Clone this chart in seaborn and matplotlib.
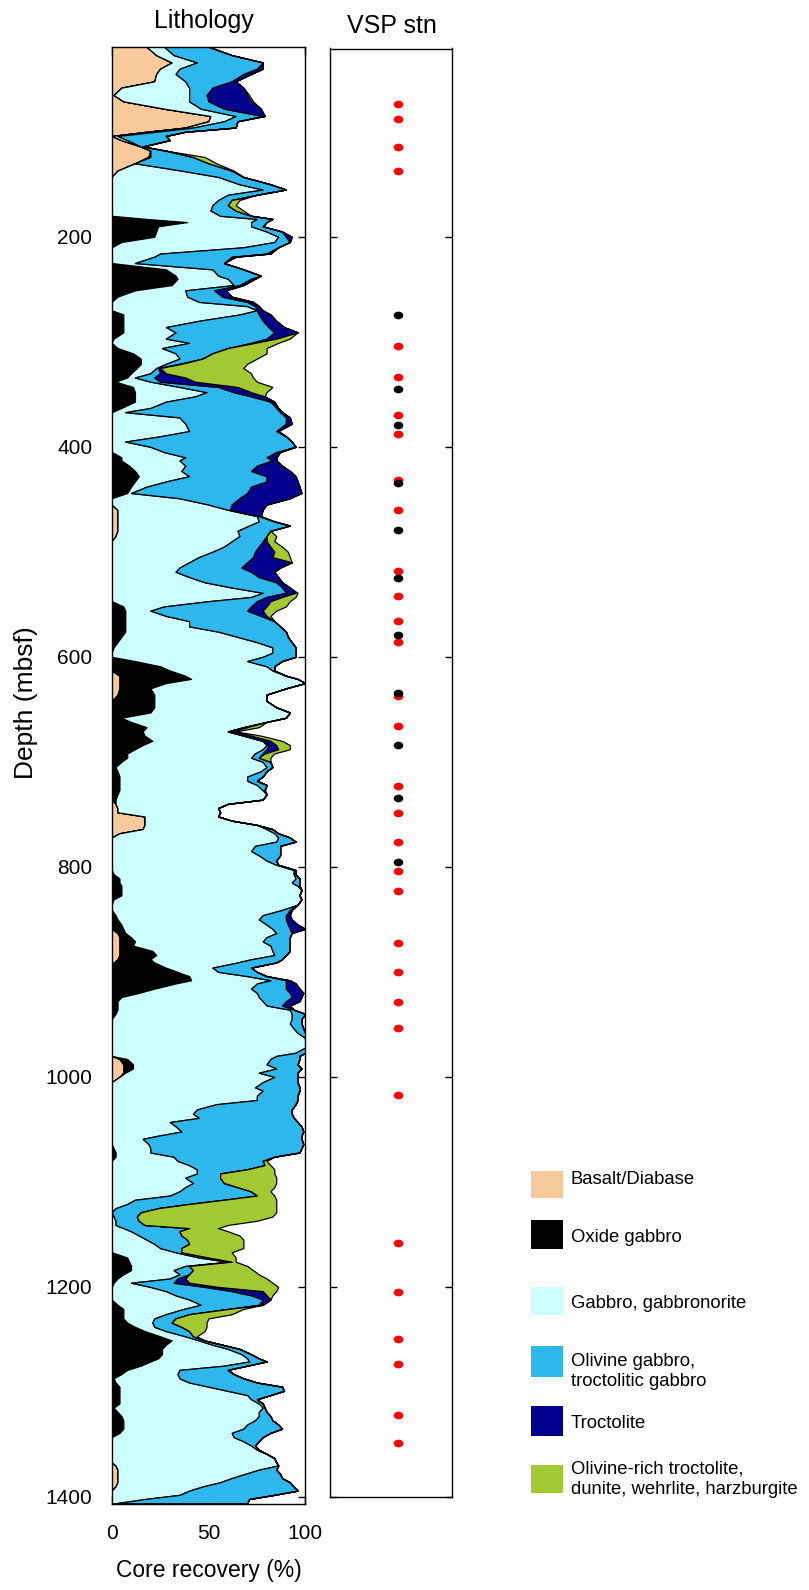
import numpy as np
import matplotlib
matplotlib.use("Agg")
import matplotlib.pyplot as plt
from matplotlib.path import Path
from matplotlib.patches import Rectangle
import seaborn as sns

# ---------------- data ----------------
depth = [
    19, 27, 34, 40, 45, 52, 58, 65, 71, 78,
    85, 90, 96, 100, 104, 108, 114, 118, 124, 130,
    137, 143, 150, 155, 160, 165, 170, 175, 180, 183,
    186, 190, 195, 200, 205, 210, 216, 219, 225, 231,
    237, 240, 246, 251, 257, 262, 266, 270, 274, 280,
    286, 291, 297, 301, 306, 311, 316, 321, 325, 330,
    334, 338, 343, 348, 352, 357, 363, 367, 372, 378,
    385, 390, 395, 400, 405, 410, 413, 418, 423, 428,
    433, 438, 444, 449, 455, 460, 466, 471, 475, 480,
    485, 490, 495, 500, 505, 510, 515, 519, 524, 529,
    534, 539, 543, 547, 552, 556, 561, 566, 571, 576,
    581, 586, 591, 596, 600, 604, 609, 613, 618, 621,
    625, 630, 636, 642, 648, 653, 658, 662, 667, 671,
    675, 680, 684, 688, 692, 696, 700, 705, 709, 714,
    718, 722, 727, 731, 736, 740, 744, 748, 752, 756,
    760, 764, 768, 772, 776, 780, 785, 789, 794, 798,
    803, 807, 811, 815, 818, 822, 827, 831, 836, 841,
    846, 850, 855, 859, 863, 867, 871, 875, 880, 884,
    888, 891, 896, 900, 904, 908, 911, 916, 920, 924,
    928, 932, 936, 940, 945, 949, 954, 958, 963, 968,
    972, 977, 980, 983, 988, 992, 996, 1000, 1005, 1010,
    1013, 1018, 1022, 1026, 1031, 1035, 1039, 1043, 1047, 1052,
    1056, 1059, 1064, 1068, 1072, 1076, 1080, 1084, 1088, 1092,
    1096, 1101, 1105, 1109, 1113, 1117, 1121, 1125, 1129, 1133,
    1137, 1141, 1144, 1147, 1151, 1155, 1159, 1163, 1167, 1172,
    1176, 1180, 1184, 1188, 1192, 1196, 1200, 1204, 1208, 1212,
    1217, 1221, 1226, 1230, 1234, 1238, 1242, 1247, 1251, 1255,
    1259, 1264, 1268, 1271, 1275, 1279, 1283, 1287, 1291, 1295,
    1299, 1303, 1307, 1311, 1315, 1319, 1323, 1327, 1331, 1335,
    1339, 1343, 1347, 1351, 1355, 1359, 1363, 1367, 1370, 1374,
    1378, 1382, 1386, 1390, 1394, 1398, 1402, 1406,
]

basalt = [
    18, 23, 31, 25, 23, 22, 5, 1, 6, 27,
    51, 50, 38, 18, 0, 5, 15, 20, 19, 12,
    3, 0, 0, 0, 0, 0, 0, 0, 0, 0,
    0, 0, 0, 0, 0, 0, 0, 0, 0, 0,
    0, 0, 0, 0, 0, 0, 0, 0, 0, 0,
    0, 0, 0, 0, 0, 0, 0, 0, 0, 0,
    0, 0, 0, 0, 0, 0, 0, 0, 0, 0,
    0, 0, 0, 0, 0, 0, 0, 0, 0, 0,
    0, 0, 0, 0, 0, 3, 3, 3, 3, 3,
    2, 0, 0, 0, 0, 0, 0, 0, 0, 0,
    0, 0, 0, 0, 0, 0, 0, 0, 0, 0,
    0, 0, 0, 0, 0, 0, 0, 0, 4, 4,
    4, 4, 3, 0, 0, 0, 0, 0, 0, 0,
    0, 0, 0, 0, 0, 0, 0, 0, 0, 0,
    0, 0, 0, 0, 0, 2, 3, 3, 17, 17,
    17, 16, 4, 0, 0, 0, 0, 0, 0, 0,
    0, 0, 0, 0, 0, 0, 0, 0, 0, 0,
    0, 0, 0, 0, 3, 4, 4, 4, 4, 4,
    3, 1, 0, 0, 0, 0, 0, 0, 0, 0,
    0, 0, 0, 0, 0, 0, 0, 0, 0, 0,
    0, 0, 0, 4, 6, 6, 6, 4, 0, 0,
    0, 0, 0, 0, 0, 0, 0, 0, 0, 0,
    0, 0, 0, 0, 0, 0, 0, 0, 0, 0,
    0, 0, 0, 0, 0, 0, 0, 0, 0, 0,
    0, 0, 0, 0, 0, 0, 0, 0, 0, 0,
    0, 0, 0, 0, 0, 0, 0, 0, 0, 0,
    0, 0, 0, 0, 0, 0, 0, 0, 0, 0,
    0, 0, 0, 0, 0, 0, 0, 0, 0, 0,
    0, 0, 0, 0, 0, 0, 0, 0, 0, 0,
    0, 0, 0, 0, 0, 0, 0, 0, 2, 3,
    3, 3, 3, 2, 0, 0, 0, 0,
]

oxide_gabbro = [
    0, 0, 0, 0, 0, 0, 0, 0, 0, 0,
    0, 0, 0, 0, 0, 0, 0, 0, 0, 0,
    0, 0, 0, 0, 0, 0, 0, 0, 0, 18,
    39, 24, 23, 22, 5, 0, 0, 0, 0, 28,
    33, 34, 31, 12, 3, 0, 0, 0, 6, 6,
    6, 6, 1, 0, 3, 11, 15, 15, 13, 10,
    8, 2, 11, 12, 12, 12, 5, 0, 0, 0,
    0, 0, 0, 0, 0, 5, 5, 9, 12, 14,
    12, 10, 8, 0, 0, 0, 0, 0, 0, 0,
    0, 0, 0, 0, 0, 0, 0, 0, 0, 0,
    0, 0, 0, 0, 6, 7, 7, 7, 7, 7,
    5, 3, 1, 0, 0, 12, 25, 30, 34, 37,
    24, 16, 19, 22, 22, 20, 5, 10, 18, 16,
    17, 21, 16, 12, 8, 8, 5, 2, 3, 4,
    4, 4, 4, 3, 2, 0, 0, 0, 0, 0,
    0, 0, 0, 0, 0, 0, 0, 0, 0, 0,
    0, 1, 4, 4, 5, 5, 5, 1, 0, 0,
    2, 3, 5, 6, 4, 6, 8, 7, 17, 19,
    17, 21, 28, 34, 40, 41, 33, 22, 14, 5,
    3, 3, 3, 2, 0, 0, 0, 0, 0, 0,
    0, 0, 0, 4, 5, 5, 1, 0, 0, 0,
    0, 0, 0, 0, 0, 0, 0, 0, 0, 0,
    0, 0, 0, 1, 2, 2, 0, 0, 0, 0,
    0, 0, 0, 0, 0, 0, 0, 0, 0, 0,
    0, 0, 0, 0, 0, 0, 0, 0, 0, 8,
    9, 10, 10, 6, 3, 1, 0, 0, 0, 0,
    3, 6, 6, 6, 8, 12, 17, 25, 31, 28,
    26, 26, 24, 20, 15, 8, 5, 1, 2, 4,
    4, 4, 4, 4, 1, 3, 5, 6, 6, 6,
    4, 0, 0, 0, 0, 0, 0, 0, 0, 0,
    0, 0, 0, 0, 0, 0, 0, 0,
]

gabbro = [
    9, 9, 13, 10, 10, 16, 35, 39, 34, 19,
    13, 8, 4, 5, 3, 3, 0, 0, 1, 0,
    33, 55, 66, 78, 60, 55, 52, 51, 56, 57,
    33, 48, 57, 64, 79, 68, 25, 22, 12, 24,
    22, 26, 32, 26, 36, 45, 70, 75, 60, 39,
    22, 27, 27, 40, 23, 22, 20, 13, 10, 10,
    4, 18, 24, 37, 31, 16, 15, 7, 35, 38,
    40, 25, 7, 20, 27, 33, 30, 29, 24, 26,
    16, 8, 2, 35, 50, 57, 72, 73, 68, 62,
    64, 62, 58, 52, 45, 40, 35, 33, 40, 48,
    62, 78, 72, 50, 21, 13, 21, 33, 33, 48,
    60, 72, 82, 83, 78, 58, 55, 53, 52, 55,
    72, 70, 58, 58, 63, 72, 85, 70, 50, 44,
    51, 57, 64, 66, 66, 64, 73, 78, 74, 66,
    66, 71, 74, 77, 76, 58, 52, 53, 38, 45,
    58, 64, 80, 86, 85, 74, 72, 76, 80, 85,
    94, 93, 91, 89, 91, 93, 92, 97, 96, 88,
    76, 73, 75, 77, 78, 70, 66, 71, 62, 61,
    52, 43, 24, 21, 30, 41, 42, 50, 61, 71,
    75, 77, 89, 91, 93, 92, 94, 96, 100, 100,
    100, 95, 85, 74, 69, 74, 69, 80, 78, 74,
    78, 75, 75, 54, 44, 42, 45, 30, 33, 36,
    24, 16, 19, 19, 18, 30, 34, 40, 44, 44,
    38, 42, 38, 35, 30, 12, 8, 2, 0, 1,
    2, 2, 6, 10, 14, 18, 22, 25, 33, 37,
    51, 28, 22, 29, 27, 9, 20, 28, 33, 40,
    43, 31, 22, 16, 13, 10, 11, 13, 14, 24,
    34, 41, 46, 51, 43, 27, 29, 34, 38, 46,
    56, 66, 68, 72, 77, 73, 71, 68, 64, 62,
    58, 63, 68, 72, 75, 80, 84, 85, 84, 73,
    66, 59, 53, 45, 40, 35, 17, 2,
]

olivine_gabbro = [
    23, 30, 34, 40, 35, 24, 12, 9, 10, 12,
    14, 7, 22, 15, 25, 22, 1, 8, 22, 38,
    26, 13, 16, 12, 15, 7, 8, 13, 16, 8,
    8, 6, 8, 4, 8, 18, 55, 40, 46, 16,
    22, 12, 3, 15, 18, 25, 4, 0, 10, 33,
    53, 51, 52, 32, 34, 19, 12, 7, 1, 5,
    10, 5, 20, 14, 29, 54, 65, 80, 55, 52,
    45, 65, 86, 75, 58, 42, 48, 37, 36, 40,
    52, 54, 60, 31, 12, 1, 1, 8, 21, 17,
    14, 16, 18, 22, 28, 30, 32, 39, 36, 37,
    26, 12, 8, 25, 45, 50, 49, 44, 47, 35,
    26, 18, 12, 12, 17, 18, 4, 1, 0, 0,
    0, 0, 0, 0, 0, 0, 0, 0, 0, 0,
    0, 0, 1, 2, 4, 4, 4, 3, 3, 8,
    5, 5, 1, 0, 0, 0, 0, 0, 0, 0,
    0, 3, 2, 6, 10, 13, 15, 11, 5, 1,
    1, 1, 2, 4, 1, 0, 0, 0, 0, 4,
    12, 14, 11, 9, 8, 12, 14, 10, 9, 6,
    16, 20, 20, 20, 10, 8, 15, 18, 17, 17,
    12, 8, 2, 7, 5, 6, 5, 4, 0, 0,
    0, 5, 12, 15, 16, 13, 20, 12, 18, 23,
    19, 21, 21, 41, 49, 51, 49, 66, 65, 63,
    74, 82, 80, 78, 77, 52, 44, 39, 26, 12,
    18, 16, 27, 37, 45, 46, 32, 22, 15, 12,
    12, 15, 34, 25, 22, 21, 18, 11, 3, 5,
    2, 2, 10, 5, 4, 22, 28, 34, 39, 38,
    30, 23, 12, 11, 10, 14, 12, 4, 3, 5,
    6, 5, 6, 9, 12, 25, 29, 33, 35, 38,
    29, 12, 3, 2, 1, 4, 6, 9, 16, 20,
    20, 15, 8, 2, 1, 0, 0, 0, 0, 9,
    18, 26, 36, 47, 56, 49, 54, 68,
]

troctolite = [
    0, 0, 0, 3, 4, 2, 16, 21, 22, 19,
    1, 0, 0, 0, 0, 0, 0, 0, 0, 0,
    0, 0, 0, 0, 0, 0, 0, 0, 0, 0,
    0, 0, 0, 3, 0, 0, 2, 2, 0, 0,
    0, 2, 2, 6, 5, 3, 2, 3, 6, 7,
    8, 12, 5, 2, 0, 0, 0, 1, 1, 3,
    16, 18, 10, 9, 7, 2, 1, 1, 2, 3,
    1, 0, 0, 0, 2, 5, 2, 13, 20, 15,
    16, 25, 28, 26, 18, 17, 1, 0, 0, 0,
    0, 2, 6, 10, 10, 23, 20, 12, 10, 3,
    4, 5, 8, 7, 8, 8, 3, 0, 0, 0,
    0, 0, 0, 0, 0, 0, 0, 0, 0, 0,
    0, 0, 0, 0, 0, 0, 0, 0, 2, 2,
    4, 4, 4, 6, 1, 0, 0, 0, 0, 0,
    0, 0, 0, 0, 0, 0, 0, 0, 0, 0,
    0, 0, 0, 0, 0, 0, 0, 0, 0, 0,
    0, 0, 0, 0, 0, 0, 0, 0, 0, 1,
    2, 3, 5, 8, 0, 0, 0, 0, 0, 0,
    0, 0, 0, 0, 0, 2, 5, 7, 7, 5,
    7, 4, 0, 0, 0, 0, 0, 0, 0, 0,
    0, 0, 0, 0, 0, 0, 0, 0, 0, 0,
    0, 0, 0, 0, 0, 0, 0, 0, 0, 0,
    0, 0, 0, 0, 0, 0, 0, 0, 0, 0,
    0, 0, 0, 0, 0, 0, 0, 0, 0, 0,
    0, 0, 0, 0, 0, 0, 0, 0, 0, 0,
    0, 0, 0, 0, 4, 8, 7, 16, 8, 4,
    2, 0, 0, 0, 0, 0, 0, 0, 0, 0,
    0, 0, 0, 0, 0, 0, 0, 0, 0, 0,
    0, 0, 0, 0, 0, 0, 0, 0, 0, 0,
    0, 0, 0, 0, 0, 0, 0, 0, 0, 0,
    0, 0, 0, 0, 0, 0, 0, 0,
]

olivine_rich = [
    0, 0, 0, 0, 0, 0, 0, 1, 1, 0,
    0, 0, 0, 0, 0, 0, 0, 0, 6, 4,
    1, 0, 0, 0, 0, 4, 4, 4, 0, 0,
    0, 0, 0, 0, 0, 0, 0, 0, 0, 0,
    0, 0, 0, 0, 0, 0, 0, 0, 0, 0,
    0, 0, 7, 12, 20, 28, 28, 34, 43, 44,
    35, 32, 18, 8, 0, 0, 0, 0, 0, 0,
    0, 0, 0, 0, 0, 0, 0, 0, 0, 0,
    0, 0, 0, 0, 0, 0, 0, 0, 0, 0,
    5, 4, 6, 7, 9, 0, 0, 0, 0, 0,
    0, 1, 7, 10, 10, 7, 2, 0, 0, 0,
    0, 0, 0, 0, 0, 0, 0, 0, 0, 0,
    0, 0, 0, 0, 0, 0, 0, 0, 6, 2,
    5, 6, 7, 6, 5, 6, 0, 0, 0, 0,
    0, 0, 0, 0, 0, 0, 0, 0, 0, 0,
    0, 0, 0, 0, 0, 0, 0, 0, 0, 0,
    0, 0, 0, 0, 0, 0, 0, 0, 0, 0,
    0, 0, 0, 0, 0, 0, 0, 0, 0, 0,
    0, 0, 0, 0, 0, 0, 0, 0, 0, 0,
    0, 0, 0, 0, 0, 0, 0, 0, 0, 0,
    0, 0, 0, 0, 0, 0, 0, 0, 0, 0,
    0, 0, 0, 0, 0, 0, 0, 0, 0, 0,
    0, 0, 0, 0, 0, 0, 2, 3, 14, 28,
    29, 27, 19, 10, 9, 27, 45, 61, 70, 70,
    61, 43, 15, 25, 30, 29, 28, 32, 26, 14,
    2, 30, 31, 36, 42, 43, 31, 7, 3, 0,
    0, 8, 22, 17, 18, 13, 8, 2, 0, 0,
    0, 0, 0, 0, 0, 0, 0, 0, 0, 0,
    0, 0, 0, 0, 0, 0, 0, 0, 0, 0,
    0, 0, 0, 0, 0, 0, 0, 0, 0, 0,
    0, 0, 0, 0, 0, 0, 0, 0,
]

lith_names = ["Basalt/Diabase", "Oxide gabbro", "Gabbro, gabbronorite",
              "Olivine gabbro,\ntroctolitic gabbro", "Troctolite",
              "Olivine-rich troctolite,\ndunite, wehrlite, harzburgite"]
lith_colors = ["#F8C99B", "#000000", "#CCFFFF", "#2DB7EC", "#00008C", "#A3C932"]

vsp_red = [73, 87, 114, 137, 303, 333, 369, 387, 431, 460, 518, 542, 565, 585,
           637, 665, 723, 748, 776, 804, 823, 872, 900, 928, 953, 1017, 1158,
           1205, 1249, 1273, 1322, 1349]
vsp_black = [274, 344, 379, 434, 479, 524, 579, 634, 684, 734, 795]

depth_ticks = [200, 400, 600, 800, 1000, 1200, 1400]
recovery_ticks = [0, 50, 100]

# ---------------- style ----------------
sns.set_style("white")
plt.rcParams["font.family"] = ["Liberation Sans", "DejaVu Sans"]
plt.rcParams["axes.linewidth"] = 1.0
for key in ["text.color", "axes.labelcolor", "xtick.color", "ytick.color",
            "axes.edgecolor"]:
    plt.rcParams[key] = "black"

W, H = 809, 1590
fig = plt.figure(figsize=(W / 100, H / 100), dpi=100)


def px_axes(x0, y0, x1, y1):
    return fig.add_axes([x0 / W, 1 - y1 / H, (x1 - x0) / W, (y1 - y0) / H])


# ---------------- lithology panel ----------------
ax = px_axes(111.7, 46.7, 305.3, 1504.3)
layers = [basalt, oxide_gabbro, gabbro, olivine_gabbro, troctolite, olivine_rich]
n = len(depth)
for lay in layers:
    assert len(lay) == n, (len(lay), n)
d = np.array(depth, dtype=float)
left = np.zeros(n)
for vals, col in zip(layers, lith_colors):
    right = left + np.array(vals, dtype=float)
    ax.fill_betweenx(d, left, right, facecolor=col, edgecolor="black",
                     linewidth=0.9, zorder=1)
    left = right

ax.set_xlim(0, 100)
ax.set_ylim(1407, 19)
ax.set_xticks(recovery_ticks)
ax.set_yticks(depth_ticks)
ax.set_yticklabels([str(t) for t in depth_ticks])
ax.tick_params(axis="y", direction="in", left=False, right=True,
               labelleft=True, labelright=False, length=5, width=1,
               pad=14, labelsize=15, colors="black")
ax.tick_params(axis="x", direction="in", top=True, bottom=True,
               length=5.5, width=1, pad=14, labelsize=15, colors="black")
for s in ax.spines.values():
    s.set_color("black")
    s.set_linewidth(1.0)
    s.set_zorder(3)
ax.set_xlabel("Core recovery (%)", fontsize=16.5, labelpad=12, color="black")
ax.set_ylabel("")

# ---------------- VSP panel ----------------
ax2 = px_axes(330, 48.5, 451.7, 1497)
circ = Path.unit_circle()
ellipse = Path(circ.vertices * np.array([1.25, 1.0]), circ.codes)
vsp_x = 0.556
sns.scatterplot(x=[vsp_x] * len(vsp_red), y=vsp_red, ax=ax2, color="#FF0000",
                marker=ellipse, s=48, linewidth=0, zorder=3)
sns.scatterplot(x=[vsp_x] * len(vsp_black), y=vsp_black, ax=ax2, color="black",
                marker=ellipse, s=48, linewidth=0, zorder=4)
ax2.set_xlim(0, 1)
ax2.set_ylim(1400, 20)
ax2.set_xticks([])
ax2.set_yticks(depth_ticks)
ax2.tick_params(axis="y", direction="in", left=True, right=True,
                labelleft=False, length=5, width=1, colors="black")
ax2.set_xlabel("")
ax2.set_ylabel("")
for s in ax2.spines.values():
    s.set_color("black")
    s.set_linewidth(1.0)

# ---------------- titles / labels / legend (overlay in pixel coords) ----------------
ov = fig.add_axes([0, 0, 1, 1], zorder=-1)
ov.set_xlim(0, W)
ov.set_ylim(H, 0)
ov.axis("off")

ov.text(204, 28, "Lithology", fontsize=18, ha="center", va="baseline", color="black")
ov.text(392, 33, "VSP stn", fontsize=18, ha="center", va="baseline", color="black")
ov.text(26, 703, "Depth (mbsf)", fontsize=19, rotation=90,
        ha="center", va="center", color="black")

patch_tops = [1171, 1220, 1287, 1346, 1406, 1465]
patch_h = [26.7, 29.3, 27.6, 30.7, 29.7, 27.7]
text_y = [1179, 1238, 1303, 1371.5, 1423, 1479]
for name, col, top, h, ty in zip(lith_names, lith_colors, patch_tops, patch_h, text_y):
    ov.add_patch(Rectangle((530.7, top), 32, h, facecolor=col, edgecolor="none"))
    ov.text(571, ty, name, fontsize=13.3, ha="left", va="center",
            color="black", linespacing=1.25)

fig.savefig("out.png", dpi=100)
